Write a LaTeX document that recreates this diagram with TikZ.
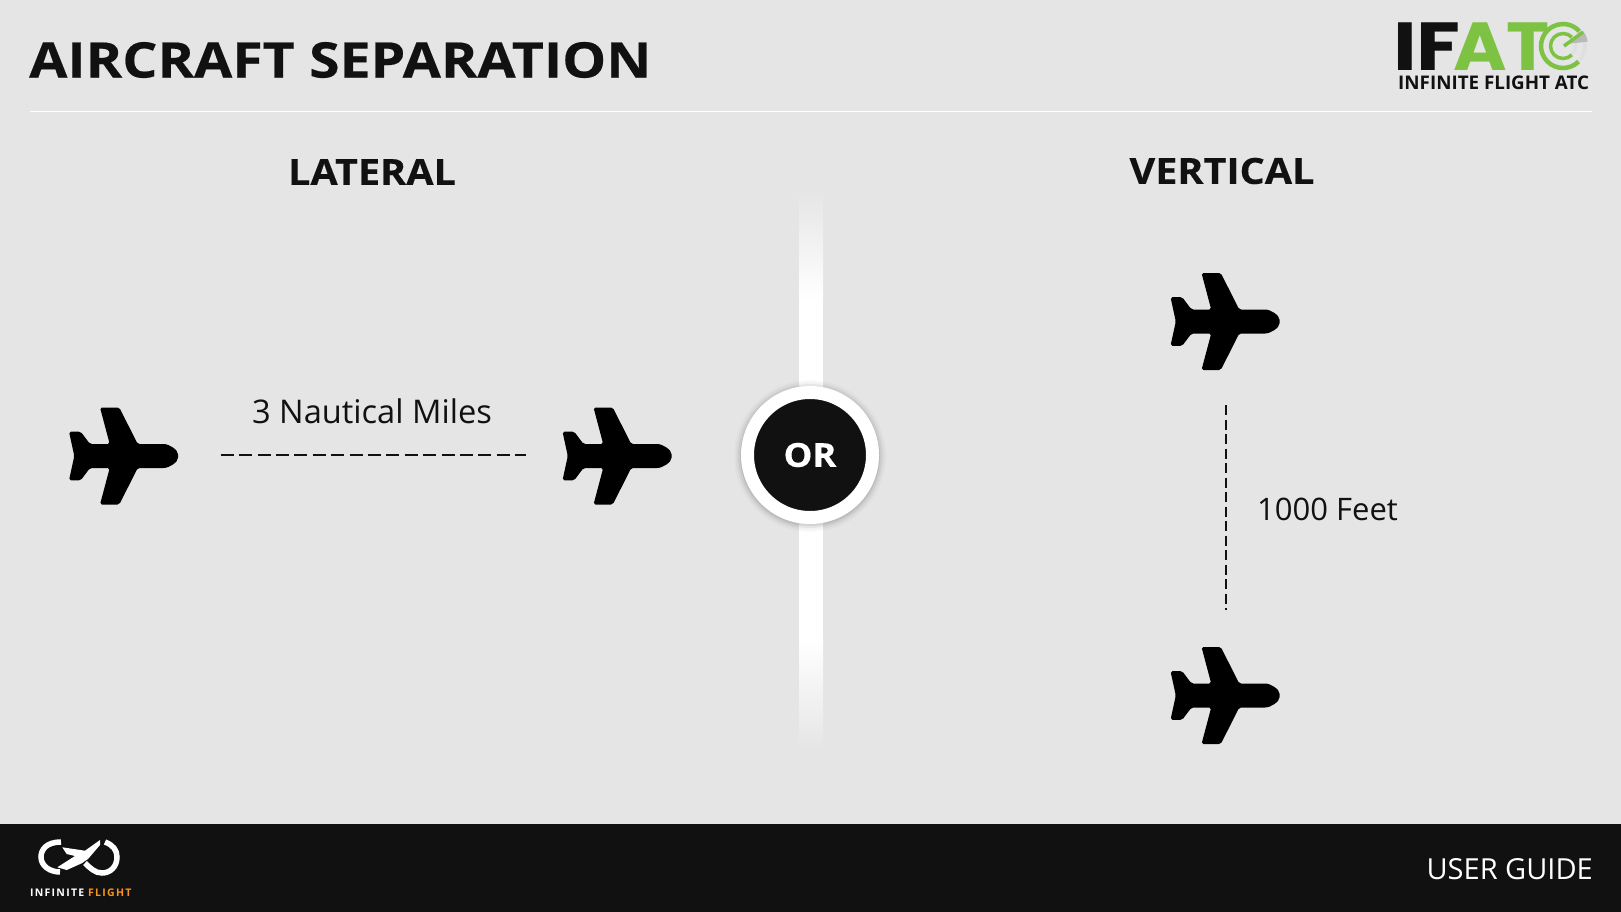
\documentclass[tikz,border=0pt]{standalone}
\usepackage{fontspec}
\setmainfont{Open Sans}
\newfontfamily\atfont[FakeStretch=1.07]{Poppins}
\newfontfamily\iffont[FakeStretch=1.18]{Poppins}
\newfontfamily\titlefont[FakeStretch=1.13,FakeBold=0.4]{Open Sans}
\newfontfamily\headfont[FakeStretch=1.1,FakeBold=0.3]{Open Sans}
\newfontfamily\brandfont[LetterSpace=12]{Open Sans}
\usetikzlibrary{positioning,calc}
\definecolor{ifbg}{RGB}{229,229,229}
\definecolor{ifdark}{RGB}{17,17,17}
\definecolor{ifgreen}{RGB}{125,194,66}
\definecolor{iforange}{RGB}{247,148,29}
\tikzstyle{heading} = [text=ifdark, font=\headfont\bfseries\fontsize{36}{36}\selectfont, inner sep=0pt]
\tikzstyle{label} = [text=ifdark, inner sep=0pt]
\tikzstyle{plane} = [minimum width=110pt, minimum height=97pt, inner sep=0pt, path picture={
\fill[black, rounded corners=1.8pt] (54.5,0) .. controls (54.5,-6) and (46,-12) .. (38.2,-12) -- (14.2,-12) -- (-4.2,-48.5) -- (-23.5,-48.5) -- (-13.8,-12) -- (-33.5,-12) -- (-42.8,-24.3) -- (-54.5,-24.3) -- (-49.2,0) -- (-54.5,24.3) -- (-42.8,24.3) -- (-33.5,12) -- (-13.8,12) -- (-23.5,48.5) -- (-4.2,48.5) -- (14.2,12) -- (38.2,12) .. controls (46,12) and (54.5,6) .. (54.5,0) -- cycle;
}]
\tikzstyle{gap} = [color=ifdark, line width=1.4pt]
\begin{document}
\begin{tikzpicture}[x=1pt, y=-1pt]
\useasboundingbox (0,0) rectangle (1621,912);
\fill[ifbg] (0,0) rectangle (1621,912);
\fill[ifdark] (0,824) rectangle (1621,912);
\draw[white, line width=1.2pt] (30,111.5) -- (1592,111.5);

% Titles
\node (title) [anchor=west, inner sep=0pt, text=ifdark, font=\titlefont\bfseries\fontsize{49}{49}\selectfont] at (29,60) {AIRCRAFT SEPARATION};
\node (lateral) [heading] at (372,172) {LATERAL};
\node (vertical) [heading] at (1222,171) {VERTICAL};
\node (guide) [anchor=east, inner sep=0pt, text=white, font=\fontsize{29}{29}\selectfont] at (1593,869) {USER GUIDE};

% Divider
\shade[top color=ifbg, bottom color=white] (799,190) rectangle (823,300);
\fill[white] (799,299) rectangle (823,640);
\shade[top color=white, bottom color=ifbg] (799,639) rectangle (823,750);
\foreach \r/\o in {76/0.02,74/0.03,72/0.05,70/0.08} {
\fill[black, opacity=\o] (810,456) circle (\r);
}
\node (orbadge) [circle, fill=ifdark, draw=white, line width=13pt, minimum size=125pt, inner sep=0pt, text=white, font=\headfont\bfseries\fontsize{33}{33}\selectfont] at (810,455) {OR};

% Planes
\node (planeA) [plane] at (123.5,456) {};
\node (planeB) [plane] at (617,456) {};
\node (planeC) [plane] at (1225,321.5) {};
\node (planeD) [plane] at (1225,695.5) {};

% Gaps
\draw[gap, dash pattern=on 13pt off 5.4pt] ([xshift=42pt,yshift=1pt]planeA.east) -- ([xshift=-36pt,yshift=1pt]planeB.west);
\draw[gap, dash pattern=on 10pt off 4.5pt] (1226,405) -- (1226,610);
\node (miles) [label, font=\fontsize{32.6}{33}\selectfont] at (372,411) {3 Nautical Miles};
\node (feet) [label, anchor=west, font=\fontsize{31}{32}\selectfont] at (1257,509) {1000 Feet};

% IFATC logo
\node (logoIF) [anchor=base west, inner sep=0pt, text=ifdark, font=\iffont\bfseries\fontsize{68}{68}\selectfont] at (1393,71) {IF};
\node (logoAT) [anchor=base west, inner sep=0pt, text=ifgreen, font=\atfont\bfseries\fontsize{68}{68}\selectfont] at (1453,71) {AT};
\draw[gray!25, line width=4pt] (1563,46) ++(-45:22) arc (-45:40:22);
\draw[gray!25, line width=3pt] (1563,46) ++(-45:12.5) arc (-45:40:12.5);
\fill[gray!55] (1566,44) -- (1583,31) arc (-38:-10:24) -- cycle;
\draw[ifgreen, line width=4.5pt] (1563,46) ++(45:22) arc (45:318:22);
\draw[ifgreen, line width=3.5pt] (1563,46) ++(45:12.5) arc (45:315:12.5);
\draw[ifgreen, line width=3.5pt] (1564,46) -- (1583,32);
\node (logotext) [anchor=base west, inner sep=0pt, text=ifdark, font=\bfseries\fontsize{18.8}{19}\selectfont] at (1398,90) {INFINITE FLIGHT ATC};

% Footer logo
\draw[white, line width=5.5pt] (61,842) .. controls (46,842) and (41,850) .. (41,857) .. controls (41,866) and (50,872) .. (60,872);
\draw[white, line width=5.5pt] (105,842) .. controls (113,845) and (117,850) .. (117,857) .. controls (117,867) and (110,873) .. (102,873) .. controls (95,873) and (90,868) .. (85,863);
\fill[white] (100,840) -- (85,850.7) -- (62.3,847.3) -- (66.7,854) -- (75,856) -- (57.3,867.3) -- (66.7,870) -- (81.7,863.3) -- (88,859) -- (100,845) -- cycle;
\node (brand) [anchor=base west, inner sep=0pt, text=white, font=\brandfont\bfseries\fontsize{10.5}{11}\selectfont] at (30,896) {INFINITE \textcolor{iforange}{FLIGHT}};
\end{tikzpicture}
\end{document}
